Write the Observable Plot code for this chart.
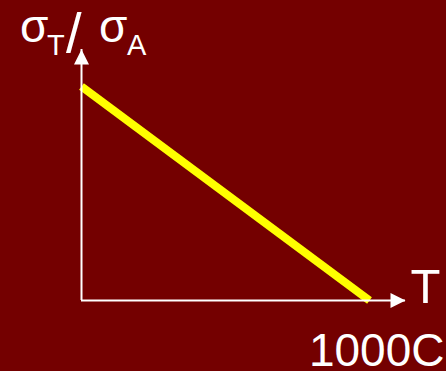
<!DOCTYPE html>
<html>
<head>
<meta charset="utf-8">
<script src="https://cdn.jsdelivr.net/npm/d3@7"></script>
<script src="https://cdn.jsdelivr.net/npm/@observablehq/plot@0.6"></script>
<style>
  html, body { margin: 0; padding: 0; background: #740000; overflow: hidden; }
  #chart svg { display: block; }
</style>
</head>
<body>
<div id="chart"></div>
<script>
// Stress ratio falls linearly with temperature
const temperature = [0, 1000];
const stressRatio = [1, 0];

// Axis arrows run a little past the data range
const xAxisEnd = 1125;
const yAxisEnd = 1.173;

// Labels
const xLabel = "T";
const xTickLabel = "1000C";
const xTickValue = 1000;

const bg = "#740000";
const font = "Liberation Sans, Arial, sans-serif";

const series = temperature.map((t, i) => ({t, r: stressRatio[i]}));
const heads = [
  {x: xAxisEnd, y: 0, angle: 90},
  {x: 0, y: yAxisEnd, angle: 0}
];

const chart = Plot.plot({
  width: 446,
  height: 371,
  marginLeft: 81,
  marginRight: 77,
  marginTop: 86,
  marginBottom: 71,
  style: {background: bg, fontFamily: font, color: "white", overflow: "visible"},
  x: {domain: [0, 1000], axis: null},
  y: {domain: [0, 1], axis: null},
  marks: [
    Plot.line(series, {x: "t", y: "r", stroke: "#ffff00", strokeWidth: 8, strokeLinecap: "butt"}),
    Plot.ruleY([0], {x1: 0, x2: xAxisEnd, stroke: "white", strokeWidth: 2}),
    Plot.ruleX([0], {y1: 0, y2: yAxisEnd, stroke: "white", strokeWidth: 2}),
    Plot.vector(heads, {
      x: "x", y: "y", rotate: "angle", shape: "spike", anchor: "end",
      length: 15, r: 7.5, fill: "white", stroke: "none"
    }),
    Plot.text([xLabel], {
      x: xAxisEnd, y: 0, text: d => d, textAnchor: "start", lineAnchor: "bottom",
      dx: 5, dy: 2, fontSize: 49, fill: "white"
    }),
    Plot.text([xTickLabel], {
      x: xTickValue, y: 0, text: d => d, textAnchor: "end", lineAnchor: "bottom",
      dx: 75, dy: 65, fontSize: 46, fill: "white"
    })
  ]
});

// Y-axis title: σ_T / σ_A with subscripts
const title = d3.select(chart).append("text")
  .attr("fill", "white")
  .attr("text-anchor", "start")
  .attr("font-family", font);
title.append("tspan").attr("x", 20).attr("y", 42).attr("font-size", 46).text("σ");
title.append("tspan").attr("x", 47).attr("y", 55).attr("font-size", 29).text("T");
title.append("tspan").attr("x", 66).attr("y", 52).attr("font-size", 56).text("/");
title.append("tspan").attr("x", 99).attr("y", 42).attr("font-size", 46).text("σ");
title.append("tspan").attr("x", 127).attr("y", 55).attr("font-size", 29).text("A");

document.getElementById("chart").append(chart);
</script>
</body>
</html>
